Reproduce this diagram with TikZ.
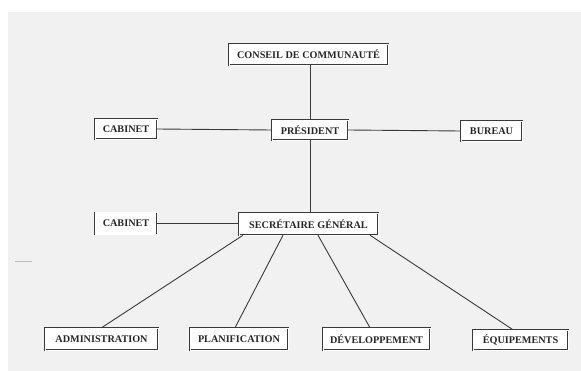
\documentclass[tikz,border=0pt]{standalone}
\usepackage{fontspec}
\setmainfont{Liberation Serif}
\definecolor{linec}{HTML}{3A3A3A}
\definecolor{paper}{HTML}{F1F1F1}
\definecolor{inkc}{HTML}{262626}
\begin{document}
\begin{tikzpicture}[x=1pt,y=-1pt,
  box/.style={draw=linec, double=white, double distance=0.7pt, line width=0.45pt,
    fill=white, inner sep=0pt, text=inkc,
    font=\fontsize{10.2}{11}\selectfont\bfseries},
  link/.style={draw=linec, line width=0.9pt}]
  \useasboundingbox (0,0) rectangle (581,371);
  \fill[white] (0,0) rectangle (581,371);
  \fill[paper] (8,12) rectangle (581,371);

  \node[box, minimum width=159pt, minimum height=21pt] (conseil) at (308.5,54.5) {CONSEIL DE COMMUNAUTÉ};
  \node[box, minimum width=76pt, minimum height=20pt] (president) at (310,130) {PRÉSIDENT};
  \node[box, minimum width=62pt, minimum height=20pt] (cabinet1) at (126,129) {CABINET};
  \node[box, minimum width=61pt, minimum height=20pt] (bureau) at (491.5,131) {BUREAU};
  \node[box, minimum width=139pt, minimum height=22pt] (sg) at (308.5,224) {SECRÉTAIRE GÉNÉRAL};
  \node[box, minimum width=62pt, minimum height=22pt] (cabinet2) at (126,223.5) {CABINET};
  \node[box, minimum width=113pt, minimum height=22pt] (admin) at (101.5,339) {ADMINISTRATION};
  \node[box, minimum width=98pt, minimum height=22pt] (planif) at (239,339) {PLANIFICATION};
  \node[box, minimum width=107pt, minimum height=22pt] (dev) at (376.5,339) {DÉVELOPPEMENT};
  \node[box, minimum width=95pt, minimum height=20pt] (equip) at (520.5,340) {ÉQUIPEMENTS};

  \coordinate (markA) at (15,261);
  \coordinate (markB) at (32,261);
  \draw[gray!55, line width=0.8pt] (markA) -- (markB);

  \draw[link] (conseil.south -| president.north) -- (president.north);
  \draw[link] (president.south) -- (president.south |- sg.north);
  \draw[link] (cabinet1.east) -- (president.west);
  \draw[link] (president.east) -- (bureau.west);
  \draw[link] (cabinet2.east) -- (cabinet2.east -| sg.west);
  \draw[link] ([xshift=-65.5pt]sg.south) -- (admin.north);
  \draw[link] ([xshift=-25.5pt]sg.south) -- ([xshift=-4pt]planif.north);
  \draw[link] ([xshift=9.5pt]sg.south) -- ([xshift=-6.5pt]dev.north);
  \draw[link] ([xshift=61.5pt]sg.south) -- ([xshift=-7.5pt]equip.north);
\end{tikzpicture}
\end{document}
